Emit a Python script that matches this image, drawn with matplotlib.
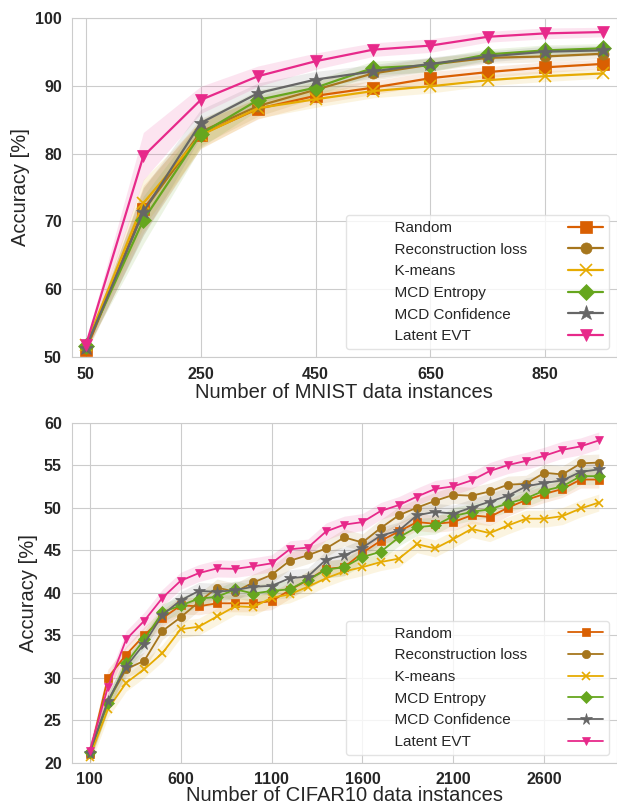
import numpy as np
import matplotlib
matplotlib.use("Agg")
import matplotlib.pyplot as plt
import seaborn as sns

sns.set_style("whitegrid")
plt.rcParams['font.family'] = ['Liberation Sans', 'DejaVu Sans']

names = ["Random", "Reconstruction loss", "K-means", "MCD Entropy", "MCD Confidence", "Latent EVT"]
colors = ["#d95f02", "#a6761d", "#e6ab02", "#66a61e", "#666666", "#e7298a"]
markers = ["s", "o", "x", "D", "*", "v"]

# MNIST
x_mnist = [50, 150, 250, 350, 450, 550, 650, 750, 850, 950]
random_m = [51.0, 71.8, 82.8, 86.6, 88.5, 89.7, 91.1, 92.0, 92.7, 93.2]
recon_m = [51.3, 71.5, 83.2, 87.0, 89.4, 91.8, 93.1, 94.1, 94.3, 94.7]
kmeans_m = [51.8, 72.7, 82.7, 86.7, 88.0, 89.2, 89.9, 90.8, 91.4, 91.8]
entropy_m = [51.6, 70.2, 82.9, 87.9, 89.7, 92.6, 93.0, 94.6, 95.2, 95.5]
conf_m = [51.4, 71.4, 84.5, 88.9, 90.9, 92.1, 93.2, 94.3, 95.0, 95.2]
evt_m = [51.8, 79.6, 87.9, 91.4, 93.6, 95.3, 95.9, 97.2, 97.7, 97.9]
band_m = [0.5, 3.5, 2.0, 1.5, 1.2, 1.0, 1.0, 0.8, 0.8, 0.7]

# CIFAR10
x_cifar = list(range(100, 3000, 100))
random_c = [21.0, 30.0, 32.7, 35.0, 37.0, 38.5, 38.4, 38.75, 38.75, 38.75, 39.0, 40.3, 41.5, 42.8, 43.0,
            44.7, 46.1, 47.2, 48.3, 48.1, 48.3, 49.1, 48.9, 50.0, 50.9, 51.6, 52.2, 53.3, 53.3]
recon_c = [21.0, 27.2, 31.0, 32.0, 35.5, 37.1, 38.9, 40.6, 40.1, 41.2, 42.1, 43.75, 44.4, 45.2, 46.5,
           45.9, 47.6, 49.1, 50.0, 50.8, 51.5, 51.4, 51.9, 52.7, 52.8, 54.1, 53.9, 55.2, 55.3]
kmeans_c = [20.7, 26.3, 29.4, 31.0, 32.9, 35.7, 36.0, 37.2, 38.4, 38.3, 39.4, 39.8, 40.7, 41.7, 42.5,
            43.0, 43.6, 44.0, 45.7, 45.2, 46.3, 47.5, 47.0, 47.9, 48.7, 48.7, 49.0, 49.9, 50.6]
entropy_c = [21.3, 27.0, 31.7, 34.5, 37.7, 38.5, 39.3, 39.5, 40.4, 39.9, 40.2, 40.4, 41.5, 42.7, 43.0,
             44.2, 44.8, 46.5, 47.7, 47.9, 49.0, 49.5, 49.8, 50.5, 51.1, 52.0, 52.5, 53.7, 53.7]
conf_c = [21.2, 27.3, 31.3, 34.0, 37.4, 39.1, 40.2, 40.1, 40.3, 40.7, 40.8, 41.7, 41.9, 43.9, 44.4,
          45.3, 46.7, 47.3, 49.1, 49.5, 49.3, 50.0, 50.7, 51.4, 52.5, 52.9, 53.2, 54.2, 54.5]
evt_c = [21.4, 28.9, 34.5, 36.7, 39.4, 41.4, 42.3, 42.85, 42.8, 43.1, 43.45, 45.1, 45.3, 47.2, 48.0,
         48.3, 49.6, 50.3, 51.3, 52.2, 52.5, 53.2, 54.3, 55.0, 55.5, 56.1, 56.8, 57.2, 57.9]
band_c = 1.0

fig = plt.figure(figsize=(6.17, 8.08), dpi=100)
ax1 = fig.add_axes([0.116, 0.558, 0.884, 0.42])
ax2 = fig.add_axes([0.116, 0.056, 0.884, 0.421])


def draw(ax, x, series, band, ms, lw):
    x = np.array(x)
    for s, name, c, m in zip(series, names, colors, markers):
        s = np.array(s)
        ax.fill_between(x, s - band, s + band, color=c, alpha=0.12, lw=0)
        size = ms * 1.4 if m == "*" else ms
        ax.plot(x, s, color=c, marker=m, ms=size, lw=lw, label="          " + name,
                mew=1.2 if m == "x" else 0.5)
    leg = ax.legend(loc="lower right", markerfirst=False, fontsize=11, handletextpad=1.0,
                    handlelength=2.3, framealpha=0.8, edgecolor="#dddddd", labelspacing=0.5)
    # texte a gauche, symboles a droite
    for col in leg._legend_handle_box.get_children():
        for item in col.get_children():
            item.mode = "expand"
            item.set_width(251)
    for sp in ax.spines.values():
        sp.set_color("#cccccc")
    ax.tick_params(labelsize=11.5)
    ax.set_ylabel("Accuracy [%]", fontsize=14.5)


draw(ax1, x_mnist, [random_m, recon_m, kmeans_m, entropy_m, conf_m, evt_m], np.array(band_m), 8, 1.6)
ax1.set_xlim(25, 975)
ax1.set_ylim(50, 100)
ax1.set_xticks([50, 250, 450, 650, 850])
ax1.set_yticks([50, 60, 70, 80, 90, 100])
for t in ax1.get_xticklabels() + ax1.get_yticklabels():
    t.set_fontweight("bold")
ax1.set_xlabel("Number of MNIST data instances", fontsize=14.5, labelpad=1)

draw(ax2, x_cifar, [random_c, recon_c, kmeans_c, entropy_c, conf_c, evt_c], band_c, 6, 1.3)
ax2.set_xlim(0, 3000)
ax2.set_ylim(20, 60)
ax2.set_xticks([100, 600, 1100, 1600, 2100, 2600])
ax2.set_yticks([20, 25, 30, 35, 40, 45, 50, 55, 60])
for t in ax2.get_xticklabels() + ax2.get_yticklabels():
    t.set_fontweight("bold")
ax2.set_xlabel("Number of CIFAR10 data instances", fontsize=14.5, labelpad=-1)

fig.savefig("out.png", dpi=100)
